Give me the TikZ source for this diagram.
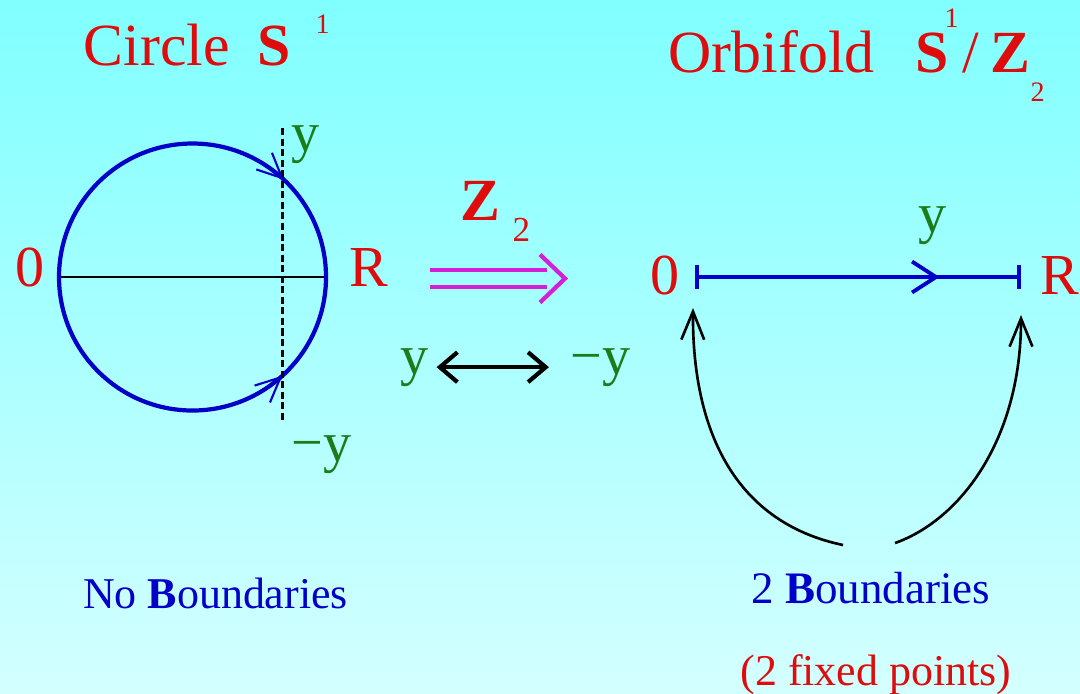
\documentclass[tikz,border=0pt]{standalone}
\usepackage{fontspec}
\setmainfont{Liberation Serif}
\usetikzlibrary{arrows.meta,decorations.markings}

\definecolor{bgtop}{RGB}{128,255,255}
\definecolor{bgbot}{RGB}{212,255,255}
\definecolor{titlered}{RGB}{222,12,12}
\definecolor{ringblue}{RGB}{0,0,200}
\definecolor{labelgreen}{RGB}{25,125,25}
\definecolor{zmagenta}{RGB}{214,30,214}

\newcommand{\fsz}[1]{\fontsize{#1}{#1}\selectfont}

\begin{document}
\begin{tikzpicture}[x=0.01cm, y=-0.01cm,
    title/.style={inner sep=0, anchor=base west, text=titlered, font=\fsz{17pt}},
    small/.style={inner sep=0, anchor=base west, text=titlered, font=\fsz{8pt}},
    endpt/.style={inner sep=0, anchor=base, text=titlered, font=\fsz{16.5pt}},
    var/.style={inner sep=0, anchor=base west, text=labelgreen, font=\fsz{16pt}},
    caption/.style={inner sep=0, anchor=base, font=\fsz{12.5pt}},
    ring/.style={draw=ringblue, line width=1.2pt, postaction={decorate},
        decoration={markings,
            mark=at position 0.1325 with {\arrowreversed[ringblue, line width=0.6pt]{Straight Barb[length=7pt,width=6.5pt]}},
            mark=at position 0.870 with {\arrow[ringblue, line width=0.6pt]{Straight Barb[length=7pt,width=6.5pt]}}}},
    cut/.style={black, line width=0.85pt, dash pattern=on 2pt off 1pt},
    seg/.style={ringblue, line width=1.1pt, {Bar[width=7pt]}-{Bar[width=7pt]}, postaction={decorate},
        decoration={markings, mark=at position 0.75 with {\arrow[line width=1.1pt]{Straight Barb[length=6.8pt,width=8.8pt]}}}},
    zline/.style={zmagenta, line width=1pt},
    swaparrow/.style={black, line width=1.2pt, {Straight Barb[length=5pt,width=8.5pt]}-{Straight Barb[length=5pt,width=8.5pt]}},
    bendarrow/.style={black, line width=0.75pt, -{Straight Barb[length=8pt,width=6.5pt]}}
]

% background
\shade[top color=bgtop, bottom color=bgbot] (0,0) rectangle (1080,693);
\useasboundingbox (0,0) rectangle (1080,693);

% titles
\node[title] (circ) at (83,65) {Circle};
\node[title, font=\fsz{17pt}\bfseries] (s1) at (257,65) {S};
\node[small] (s1sup) at (315,33) {1};
\node[title] (orb) at (668,72) {Orbifold};
\node[title, font=\fsz{17pt}\bfseries] (s2) at (915,72) {S};
\node[small] (s2sup) at (944,27) {1};
\node[title] (slash) at (962,72) {/};
\node[title, font=\fsz{17pt}\bfseries] (z1) at (990,72) {Z};
\node[small] (z1sub) at (1030,101) {2};

% circle S^1
\coordinate (c) at (192.5,277);
\draw[black, line width=0.55pt] (59,277) -- (326,277);
\draw[ring] (c) circle[radius=133.5];
\draw[cut] (282,128) -- (282,422);
\node[endpt] (c0) at (30,286) {0};
\node[endpt] (cR) at (369,286) {R};
\node[var] (cy) at (291,151) {y};
\node[var] (cmy) at (291,461) {−y};

% Z_2 map
\node[title, font=\fsz{17pt}\bfseries] (z2) at (460,220) {Z};
\node[small, font=\fsz{10pt}] (z2sub) at (512,241) {2};
\coordinate (za) at (430,278.5);
\coordinate (zb) at (565,278.5);
\draw[zline] ([yshift=2.4pt]za) -- ([yshift=2.4pt,xshift=-5pt]zb);
\draw[zline] ([yshift=-2.4pt]za) -- ([yshift=-2.4pt,xshift=-5pt]zb);
\draw[zline, line width=1.2pt] ([shift={(-25,-24)}]zb) -- (zb) -- ([shift={(-25,24)}]zb);

% y <-> -y
\node[var] (ym) at (400,374) {y};
\node[var] (mym) at (570,374) {−y};
\draw[swaparrow] ([xshift=2pt]ym.east) -- ([xshift=-6pt]mym.west);

% orbifold interval
\node[endpt] (i0) at (665,294) {0};
\node[endpt] (iR) at (1060,294) {R};
\coordinate (ia) at (695,277);
\coordinate (ib) at (1021,277);
\draw[seg] (ia) -- (ib);
\node[var] (iy) at (918,232) {y};

% boundaries
\coordinate (lstart) at (843,545);
\coordinate (ltip) at (693,308);
\coordinate (rstart) at (895,543);
\coordinate (rtip) at (1021,315);
\draw[bendarrow] (lstart) .. controls (738,523) and (692,435) .. (ltip);
\draw[bendarrow] (rstart) .. controls (960,520) and (1021,440) .. (rtip);

% captions
\node[caption, text=ringblue] (nob) at (215.5,608) {No \textbf{B}oundaries};
\node[caption, text=ringblue, font=\fsz{12.8pt}] (twob) at (871,603) {2 \textbf{B}oundaries};
\node[caption, text=titlered] (fixed) at (876,685) {(2 fixed points)};

\end{tikzpicture}
\end{document}
